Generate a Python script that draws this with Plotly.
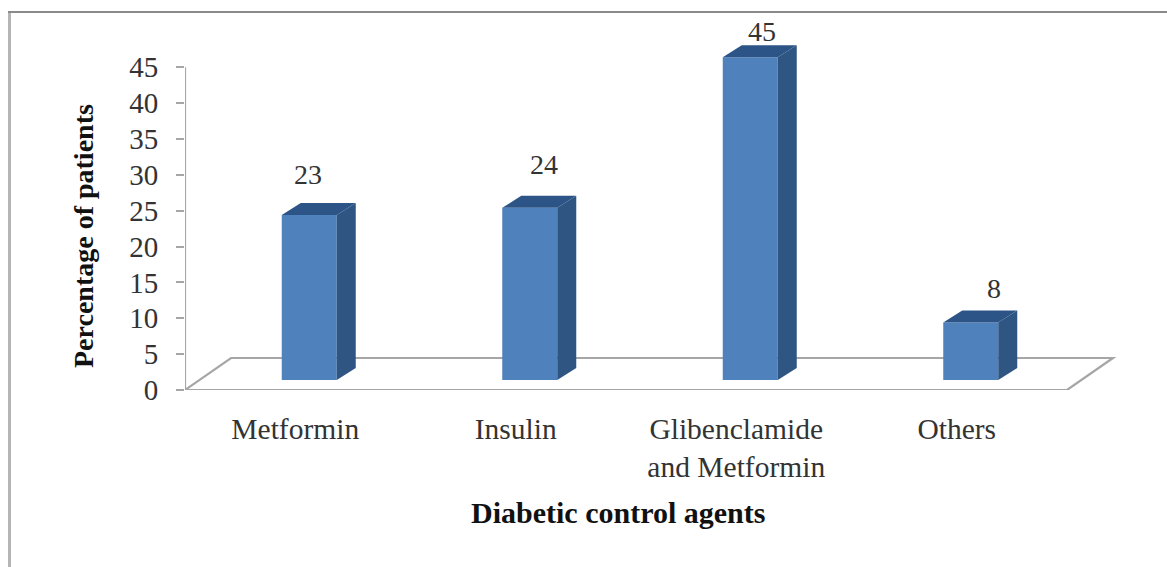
import plotly.graph_objects as go

categories = ["Metformin", "Insulin", "Glibenclamide<br>and Metformin", "Others"]
values = [23, 24, 45, 8]
y_ticks = [0, 5, 10, 15, 20, 25, 30, 35, 40, 45]
x_title = "Diabetic control agents"
y_title = "Percentage of patients"

W, H = 1167, 567
L, R, T, B = 185, 1125, 17, 390
PX_X = 220.5
PX_Y = 7.173
X0 = -0.5
X1 = X0 + (R - L) / PX_X
Y1 = (B - T) / PX_Y

BAR_W = 55 / PX_X
BAR_SHIFT = 14 / PX_X
BAR_LIFT = 10 / PX_Y
DEPTH_X = 19 / PX_X
DEPTH_Y = 12 / PX_Y
FLOOR_DX = 46 / PX_X
FLOOR_DY = 32 / PX_Y
LABEL_DX = [0.06, 0.13, 0.118, 0.168]
LABEL_DY = [7.0, 7.4, 5.0, 6.2]

FRONT = "#4f81bd"
SIDE = "#2f5583"
TOP = "#2c5487"
LINE = "#a6a6a6"
TEXT = "#333333"
FONT = "Liberation Serif"

xs = list(range(len(values)))
fig = go.Figure()


def poly(px_, py_, color, fill=False, width=2.2):
    fig.add_trace(go.Scatter(
        x=px_, y=py_, mode="lines", hoverinfo="skip", showlegend=False,
        line=dict(color=color, width=0 if fill else width),
        fill="toself" if fill else None,
        fillcolor=color if fill else None,
    ))


# floor drawn under the bars
floor_l, floor_r = X0, X0 + len(values)
fig.add_shape(
    type="path", xref="x", yref="y", layer="below",
    path=(f"M {floor_l} 0 L {floor_l + FLOOR_DX} {FLOOR_DY} "
          f"L {floor_r + FLOOR_DX} {FLOOR_DY} L {floor_r} 0 Z"),
    line=dict(color=LINE, width=2.2),
)
# value axis line
poly([X0, X0], [0, y_ticks[-1]], LINE)

# front faces
fig.add_trace(go.Bar(
    x=xs, y=values, base=BAR_LIFT, width=BAR_W, offset=BAR_SHIFT - BAR_W / 2,
    marker=dict(color=FRONT, line=dict(width=0)), showlegend=False,
))

# side and top faces
for x, v in zip(xs, values):
    x_a = x + BAR_SHIFT - BAR_W / 2
    x_b = x_a + BAR_W
    y_a = BAR_LIFT
    y_b = BAR_LIFT + v
    poly([x_b, x_b + DEPTH_X, x_b + DEPTH_X, x_b, x_b],
         [y_a, y_a + DEPTH_Y, y_b + DEPTH_Y, y_b, y_a], SIDE, fill=True)
    poly([x_a, x_a + DEPTH_X, x_b + DEPTH_X, x_b, x_a],
         [y_b, y_b + DEPTH_Y, y_b + DEPTH_Y, y_b, y_b], TOP, fill=True)

# data labels
for x, v, dx, dy in zip(xs, values, LABEL_DX, LABEL_DY):
    fig.add_annotation(x=x + dx, y=v + dy, text=str(v), showarrow=False,
                       font=dict(family=FONT, size=28, color=TEXT))


def px(v):
    return (v - L) / (R - L)


def py(v):
    return (B - v) / (B - T)


# outer frame (left and top edges)
fig.add_shape(type="line", xref="paper", yref="paper",
              x0=px(9.5), x1=px(9.5), y0=py(12), y1=py(567),
              line=dict(color="#b5b5b5", width=3))
fig.add_shape(type="line", xref="paper", yref="paper",
              x0=px(8), x1=px(1167), y0=py(12), y1=py(12),
              line=dict(color="#8a8a8a", width=2))

fig.add_annotation(xref="paper", yref="paper", x=px(618), y=py(512),
                   xanchor="center", yanchor="middle",
                   text=f"<b>{x_title}</b>", showarrow=False,
                   font=dict(family=FONT, size=30, color="#111111"))
fig.add_annotation(xref="paper", yref="paper", x=px(84), y=py(236),
                   xanchor="center", yanchor="middle",
                   text=f"<b>{y_title}</b>", showarrow=False, textangle=-90,
                   font=dict(family=FONT, size=28, color="#111111"))

fig.update_layout(
    width=W, height=H, margin=dict(l=L, r=W - R, t=T, b=H - B, pad=0),
    paper_bgcolor="white", plot_bgcolor="white", showlegend=False,
    xaxis=dict(range=[X0, X1], tickvals=xs, ticktext=categories, showgrid=False,
               zeroline=False, showline=False, ticks="", ticklabelstandoff=18,
               tickfont=dict(family=FONT, size=29.5, color=TEXT)),
    yaxis=dict(range=[0, Y1], tickvals=y_ticks, showgrid=False, zeroline=False,
               showline=False, ticks="outside", ticklen=8, tickwidth=2,
               tickcolor=LINE, ticklabelstandoff=12,
               tickfont=dict(family=FONT, size=29, color=TEXT)),
)

fig.write_html(
    "out.html",
    config={"displayModeBar": False},
    post_script="document.body.style.margin='0';document.body.style.overflow='hidden';",
)
